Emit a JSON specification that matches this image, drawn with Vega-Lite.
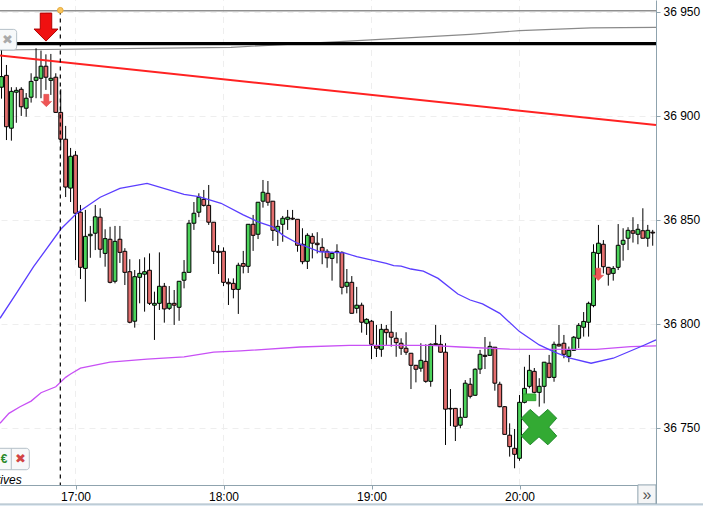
{
  "$schema": "https://vega.github.io/schema/vega-lite/v6.json",
  "width": 656,
  "height": 506,
  "padding": {"left": 0, "top": 0, "right": 47, "bottom": 0},
  "autosize": {"type": "none"},
  "background": "white",
  "config": {"view": {"stroke": null}},
  "datasets": {
    "candles": [
      {"t":"2024-01-15T16:30","o":36913.6,"c":36918.7,"h":36931.5,"l":36908.1},
      {"t":"2024-01-15T16:32","o":36919.3,"c":36894.6,"h":36924.3,"l":36888.2},
      {"t":"2024-01-15T16:34","o":36893.9,"c":36911.6,"h":36913.6,"l":36887.9},
      {"t":"2024-01-15T16:36","o":36911.2,"c":36912.1,"h":36913.6,"l":36896.5},
      {"t":"2024-01-15T16:38","o":36912.6,"c":36904.2,"h":36913.6,"l":36899.8},
      {"t":"2024-01-15T16:40","o":36903.5,"c":36908.3,"h":36910.8,"l":36899.4},
      {"t":"2024-01-15T16:42","o":36908.8,"c":36916.4,"h":36920.3,"l":36906.2},
      {"t":"2024-01-15T16:44","o":36916.9,"c":36918.4,"h":36932.3,"l":36908.3},
      {"t":"2024-01-15T16:46","o":36917.9,"c":36923.7,"h":36931.2,"l":36908.3},
      {"t":"2024-01-15T16:48","o":36923.7,"c":36918.4,"h":36929.4,"l":36912.3},
      {"t":"2024-01-15T16:50","o":36916.9,"c":36917.9,"h":36929.6,"l":36909.9},
      {"t":"2024-01-15T16:52","o":36918.4,"c":36901.5,"h":36920.3,"l":36901.2},
      {"t":"2024-01-15T16:54","o":36901.5,"c":36888.6,"h":36912.6,"l":36883.4},
      {"t":"2024-01-15T16:56","o":36888.6,"c":36865.6,"h":36895.0,"l":36860.8},
      {"t":"2024-01-15T16:58","o":36865.1,"c":36880.4,"h":36884.4,"l":36858.4},
      {"t":"2024-01-15T17:00","o":36880.9,"c":36853.0,"h":36882.9,"l":36830.5},
      {"t":"2024-01-15T17:02","o":36853.5,"c":36827.0,"h":36857.0,"l":36821.4},
      {"t":"2024-01-15T17:04","o":36826.5,"c":36841.9,"h":36854.6,"l":36810.5},
      {"t":"2024-01-15T17:06","o":36842.2,"c":36842.9,"h":36846.9,"l":36831.6},
      {"t":"2024-01-15T17:08","o":36843.4,"c":36851.3,"h":36857.0,"l":36835.3},
      {"t":"2024-01-15T17:10","o":36851.1,"c":36835.7,"h":36855.4,"l":36831.6},
      {"t":"2024-01-15T17:12","o":36833.7,"c":36840.8,"h":36845.3,"l":36827.3},
      {"t":"2024-01-15T17:14","o":36840.5,"c":36819.8,"h":36846.5,"l":36819.3},
      {"t":"2024-01-15T17:16","o":36820.3,"c":36839.5,"h":36846.9,"l":36819.3},
      {"t":"2024-01-15T17:18","o":36840.5,"c":36834.2,"h":36846.9,"l":36829.1},
      {"t":"2024-01-15T17:20","o":36834.7,"c":36824.6,"h":36836.2,"l":36818.5},
      {"t":"2024-01-15T17:22","o":36824.9,"c":36800.6,"h":36830.9,"l":36800.1},
      {"t":"2024-01-15T17:24","o":36801.1,"c":36822.5,"h":36825.7,"l":36798.0},
      {"t":"2024-01-15T17:26","o":36822.2,"c":36824.1,"h":36830.9,"l":36809.7},
      {"t":"2024-01-15T17:28","o":36823.7,"c":36824.9,"h":36831.8,"l":36805.7},
      {"t":"2024-01-15T17:30","o":36825.6,"c":36809.7,"h":36833.7,"l":36808.9},
      {"t":"2024-01-15T17:32","o":36808.8,"c":36809.7,"h":36815.3,"l":36792.1},
      {"t":"2024-01-15T17:34","o":36809.7,"c":36817.9,"h":36834.2,"l":36806.5},
      {"t":"2024-01-15T17:36","o":36817.9,"c":36807.0,"h":36819.5,"l":36800.4},
      {"t":"2024-01-15T17:38","o":36807.3,"c":36809.7,"h":36818.0,"l":36806.5},
      {"t":"2024-01-15T17:40","o":36809.7,"c":36808.8,"h":36816.1,"l":36799.3},
      {"t":"2024-01-15T17:42","o":36807.8,"c":36820.3,"h":36820.4,"l":36801.3},
      {"t":"2024-01-15T17:44","o":36820.8,"c":36824.6,"h":36830.5,"l":36816.9},
      {"t":"2024-01-15T17:46","o":36824.6,"c":36848.2,"h":36849.8,"l":36824.6},
      {"t":"2024-01-15T17:48","o":36848.2,"c":36853.0,"h":36858.4,"l":36845.0},
      {"t":"2024-01-15T17:50","o":36853.5,"c":36860.7,"h":36862.6,"l":36851.1},
      {"t":"2024-01-15T17:52","o":36859.7,"c":36856.8,"h":36864.2,"l":36856.2},
      {"t":"2024-01-15T17:54","o":36856.8,"c":36848.7,"h":36866.6,"l":36847.4},
      {"t":"2024-01-15T17:56","o":36848.7,"c":36834.7,"h":36848.8,"l":36828.6},
      {"t":"2024-01-15T17:58","o":36834.7,"c":36834.2,"h":36837.7,"l":36823.8},
      {"t":"2024-01-15T18:00","o":36834.7,"c":36819.8,"h":36836.6,"l":36818.0},
      {"t":"2024-01-15T18:02","o":36819.8,"c":36819.1,"h":36821.7,"l":36808.9},
      {"t":"2024-01-15T18:04","o":36819.3,"c":36816.4,"h":36821.7,"l":36812.1},
      {"t":"2024-01-15T18:06","o":36816.4,"c":36828.0,"h":36829.2,"l":36804.6},
      {"t":"2024-01-15T18:08","o":36828.8,"c":36827.5,"h":36834.9,"l":36824.1},
      {"t":"2024-01-15T18:10","o":36827.5,"c":36847.7,"h":36847.8,"l":36824.3},
      {"t":"2024-01-15T18:12","o":36847.7,"c":36842.4,"h":36852.2,"l":36834.9},
      {"t":"2024-01-15T18:14","o":36842.9,"c":36858.3,"h":36858.4,"l":36840.6},
      {"t":"2024-01-15T18:16","o":36858.8,"c":36863.1,"h":36869.0,"l":36855.7},
      {"t":"2024-01-15T18:18","o":36862.6,"c":36858.3,"h":36868.5,"l":36856.6},
      {"t":"2024-01-15T18:20","o":36858.8,"c":36844.8,"h":36858.9,"l":36839.7},
      {"t":"2024-01-15T18:22","o":36844.3,"c":36846.7,"h":36849.8,"l":36837.3},
      {"t":"2024-01-15T18:24","o":36847.7,"c":36850.6,"h":36851.7,"l":36839.3},
      {"t":"2024-01-15T18:26","o":36850.1,"c":36851.1,"h":36854.6,"l":36845.0},
      {"t":"2024-01-15T18:28","o":36850.6,"c":36850.2,"h":36854.6,"l":36849.8},
      {"t":"2024-01-15T18:30","o":36850.1,"c":36837.6,"h":36850.2,"l":36834.5},
      {"t":"2024-01-15T18:32","o":36838.1,"c":36829.7,"h":36845.8,"l":36828.5},
      {"t":"2024-01-15T18:34","o":36829.9,"c":36842.4,"h":36843.4,"l":36826.2},
      {"t":"2024-01-15T18:36","o":36841.9,"c":36838.6,"h":36843.4,"l":36831.3},
      {"t":"2024-01-15T18:38","o":36838.6,"c":36837.9,"h":36843.9,"l":36833.7},
      {"t":"2024-01-15T18:40","o":36836.6,"c":36834.7,"h":36841.0,"l":36828.5},
      {"t":"2024-01-15T18:42","o":36834.7,"c":36831.6,"h":36835.7,"l":36826.8},
      {"t":"2024-01-15T18:44","o":36831.3,"c":36833.7,"h":36834.5,"l":36820.6},
      {"t":"2024-01-15T18:46","o":36834.7,"c":36834.2,"h":36838.1,"l":36828.9},
      {"t":"2024-01-15T18:48","o":36834.2,"c":36817.4,"h":36834.7,"l":36814.0},
      {"t":"2024-01-15T18:50","o":36817.9,"c":36819.8,"h":36826.2,"l":36814.5},
      {"t":"2024-01-15T18:52","o":36819.8,"c":36804.9,"h":36822.8,"l":36804.9},
      {"t":"2024-01-15T18:54","o":36807.3,"c":36808.8,"h":36817.6,"l":36804.9},
      {"t":"2024-01-15T18:56","o":36808.8,"c":36800.6,"h":36810.0,"l":36795.6},
      {"t":"2024-01-15T18:58","o":36800.1,"c":36802.0,"h":36802.5,"l":36794.5},
      {"t":"2024-01-15T19:00","o":36801.1,"c":36790.0,"h":36801.7,"l":36782.9},
      {"t":"2024-01-15T19:02","o":36789.2,"c":36788.1,"h":36799.3,"l":36783.9},
      {"t":"2024-01-15T19:04","o":36787.6,"c":36797.2,"h":36799.8,"l":36784.0},
      {"t":"2024-01-15T19:06","o":36797.2,"c":36795.6,"h":36799.3,"l":36789.7},
      {"t":"2024-01-15T19:08","o":36795.8,"c":36793.4,"h":36806.0,"l":36788.9},
      {"t":"2024-01-15T19:10","o":36792.9,"c":36790.8,"h":36795.8,"l":36784.0},
      {"t":"2024-01-15T19:12","o":36790.5,"c":36788.1,"h":36792.9,"l":36784.9},
      {"t":"2024-01-15T19:14","o":36788.1,"c":36786.2,"h":36795.8,"l":36784.9},
      {"t":"2024-01-15T19:16","o":36785.7,"c":36779.9,"h":36785.8,"l":36768.5},
      {"t":"2024-01-15T19:18","o":36779.9,"c":36778.0,"h":36780.1,"l":36771.7},
      {"t":"2024-01-15T19:20","o":36778.5,"c":36782.3,"h":36790.5,"l":36776.8},
      {"t":"2024-01-15T19:22","o":36781.8,"c":36772.2,"h":36790.0,"l":36771.5},
      {"t":"2024-01-15T19:24","o":36772.2,"c":36790.0,"h":36790.5,"l":36769.6},
      {"t":"2024-01-15T19:26","o":36790.3,"c":36789.8,"h":36799.3,"l":36789.7},
      {"t":"2024-01-15T19:28","o":36790.0,"c":36786.2,"h":36794.5,"l":36786.0},
      {"t":"2024-01-15T19:30","o":36786.2,"c":36758.8,"h":36790.5,"l":36741.6},
      {"t":"2024-01-15T19:32","o":36759.2,"c":36758.9,"h":36768.5,"l":36750.7},
      {"t":"2024-01-15T19:34","o":36759.2,"c":36750.6,"h":36759.4,"l":36743.5},
      {"t":"2024-01-15T19:36","o":36751.1,"c":36754.9,"h":36759.4,"l":36749.6},
      {"t":"2024-01-15T19:38","o":36754.9,"c":36771.3,"h":36772.8,"l":36754.9},
      {"t":"2024-01-15T19:40","o":36770.8,"c":36765.0,"h":36773.8,"l":36764.0},
      {"t":"2024-01-15T19:42","o":36765.5,"c":36778.0,"h":36778.5,"l":36765.2},
      {"t":"2024-01-15T19:44","o":36778.1,"c":36785.2,"h":36787.3,"l":36775.7},
      {"t":"2024-01-15T19:46","o":36784.7,"c":36784.2,"h":36793.5,"l":36778.1},
      {"t":"2024-01-15T19:48","o":36784.7,"c":36789.0,"h":36791.3,"l":36784.4},
      {"t":"2024-01-15T19:50","o":36788.6,"c":36771.3,"h":36788.7,"l":36767.7},
      {"t":"2024-01-15T19:52","o":36770.8,"c":36760.0,"h":36772.0,"l":36759.7},
      {"t":"2024-01-15T19:54","o":36760.0,"c":36746.7,"h":36760.3,"l":36746.7},
      {"t":"2024-01-15T19:56","o":36746.3,"c":36740.8,"h":36752.0,"l":36736.0},
      {"t":"2024-01-15T19:58","o":36740.0,"c":36737.1,"h":36749.3,"l":36730.4},
      {"t":"2024-01-15T20:00","o":36735.2,"c":36762.1,"h":36765.6,"l":36734.0},
      {"t":"2024-01-15T20:02","o":36762.1,"c":36768.8,"h":36779.2,"l":36761.6},
      {"t":"2024-01-15T20:04","o":36769.8,"c":36777.5,"h":36784.9,"l":36768.8},
      {"t":"2024-01-15T20:06","o":36777.0,"c":36766.9,"h":36778.6,"l":36766.4},
      {"t":"2024-01-15T20:08","o":36766.9,"c":36769.8,"h":36773.7,"l":36760.0},
      {"t":"2024-01-15T20:10","o":36769.8,"c":36781.4,"h":36781.5,"l":36761.6},
      {"t":"2024-01-15T20:12","o":36780.9,"c":36774.1,"h":36784.9,"l":36773.7},
      {"t":"2024-01-15T20:14","o":36774.1,"c":36790.0,"h":36791.3,"l":36772.0},
      {"t":"2024-01-15T20:16","o":36790.0,"c":36789.2,"h":36799.3,"l":36788.9},
      {"t":"2024-01-15T20:18","o":36790.5,"c":36785.2,"h":36794.5,"l":36783.3},
      {"t":"2024-01-15T20:20","o":36784.2,"c":36787.1,"h":36788.9,"l":36781.4},
      {"t":"2024-01-15T20:22","o":36787.1,"c":36793.4,"h":36794.0,"l":36786.9},
      {"t":"2024-01-15T20:24","o":36792.9,"c":36799.1,"h":36800.2,"l":36788.2},
      {"t":"2024-01-15T20:26","o":36798.2,"c":36801.0,"h":36805.5,"l":36793.7},
      {"t":"2024-01-15T20:28","o":36800.6,"c":36809.7,"h":36810.5,"l":36793.7},
      {"t":"2024-01-15T20:30","o":36808.6,"c":36834.2,"h":36838.1,"l":36807.8},
      {"t":"2024-01-15T20:32","o":36833.7,"c":36838.6,"h":36847.4,"l":36826.5},
      {"t":"2024-01-15T20:34","o":36838.1,"c":36827.3,"h":36840.1,"l":36824.1},
      {"t":"2024-01-15T20:36","o":36827.0,"c":36823.7,"h":36827.2,"l":36818.2},
      {"t":"2024-01-15T20:38","o":36824.1,"c":36826.5,"h":36827.6,"l":36820.6},
      {"t":"2024-01-15T20:40","o":36827.0,"c":36837.6,"h":36847.8,"l":36825.7},
      {"t":"2024-01-15T20:42","o":36838.1,"c":36840.0,"h":36845.8,"l":36830.2},
      {"t":"2024-01-15T20:44","o":36841.0,"c":36844.8,"h":36846.3,"l":36835.3},
      {"t":"2024-01-15T20:46","o":36844.6,"c":36843.4,"h":36851.1,"l":36838.9},
      {"t":"2024-01-15T20:48","o":36842.9,"c":36845.3,"h":36847.8,"l":36838.1},
      {"t":"2024-01-15T20:50","o":36844.6,"c":36841.0,"h":36855.4,"l":36841.0},
      {"t":"2024-01-15T20:52","o":36841.0,"c":36844.8,"h":36847.4,"l":36836.9},
      {"t":"2024-01-15T20:54","o":36843.9,"c":36843.5,"h":36845.0,"l":36837.4}
    ],
    "ma_blue": [
      {"t":"2024-01-15T16:29:23","p":36802.5},{"t":"2024-01-15T16:36","p":36814.5},{"t":"2024-01-15T16:43","p":36827.3},
      {"t":"2024-01-15T16:54","p":36845.3},{"t":"2024-01-15T17:00:30","p":36853.0},{"t":"2024-01-15T17:10","p":36860.7},
      {"t":"2024-01-15T17:18","p":36865.0},{"t":"2024-01-15T17:29","p":36867.4},{"t":"2024-01-15T17:44","p":36862.1},
      {"t":"2024-01-15T17:50","p":36861.0},{"t":"2024-01-15T17:59","p":36857.8},{"t":"2024-01-15T18:08","p":36852.2},
      {"t":"2024-01-15T18:14","p":36848.9},{"t":"2024-01-15T18:20","p":36846.5},{"t":"2024-01-15T18:24","p":36842.5},
      {"t":"2024-01-15T18:30","p":36838.6},{"t":"2024-01-15T18:39","p":36834.5},{"t":"2024-01-15T18:49","p":36834.0},
      {"t":"2024-01-15T18:54","p":36832.1},{"t":"2024-01-15T19:06","p":36828.9},{"t":"2024-01-15T19:09","p":36827.8},
      {"t":"2024-01-15T19:12","p":36827.6},{"t":"2024-01-15T19:16","p":36826.2},{"t":"2024-01-15T19:21","p":36825.2},
      {"t":"2024-01-15T19:27","p":36821.7},{"t":"2024-01-15T19:35","p":36814.2},{"t":"2024-01-15T19:40","p":36811.3},
      {"t":"2024-01-15T19:45","p":36809.4},{"t":"2024-01-15T19:52","p":36804.9},{"t":"2024-01-15T20:00","p":36796.1},
      {"t":"2024-01-15T20:08","p":36789.7},{"t":"2024-01-15T20:14","p":36786.4},{"t":"2024-01-15T20:20:30","p":36783.3},
      {"t":"2024-01-15T20:29","p":36780.9},{"t":"2024-01-15T20:38","p":36783.3},{"t":"2024-01-15T20:50","p":36789.3},
      {"t":"2024-01-15T20:55:20","p":36792.1}
    ],
    "ma_magenta": [
      {"t":"2024-01-15T16:29:23","p":36752.0},{"t":"2024-01-15T16:33","p":36756.8},{"t":"2024-01-15T16:37:30","p":36760.0},
      {"t":"2024-01-15T16:42","p":36762.7},{"t":"2024-01-15T16:46","p":36766.7},{"t":"2024-01-15T16:52","p":36769.6},
      {"t":"2024-01-15T16:56","p":36774.1},{"t":"2024-01-15T16:58","p":36775.7},{"t":"2024-01-15T17:02","p":36778.5},
      {"t":"2024-01-15T17:14","p":36781.4},{"t":"2024-01-15T17:29","p":36782.9},{"t":"2024-01-15T17:44","p":36784.0},
      {"t":"2024-01-15T17:56","p":36786.2},{"t":"2024-01-15T18:07","p":36786.8},{"t":"2024-01-15T18:31","p":36788.7},
      {"t":"2024-01-15T18:51","p":36789.5},{"t":"2024-01-15T19:24","p":36789.5},{"t":"2024-01-15T19:36","p":36788.7},
      {"t":"2024-01-15T19:56","p":36787.7},{"t":"2024-01-15T20:31","p":36787.6},{"t":"2024-01-15T20:45","p":36788.9},
      {"t":"2024-01-15T20:55:20","p":36789.2}
    ],
    "ma_grey": [
      {"t":"2024-01-15T16:29:23","p":36931.5},{"t":"2024-01-15T18:03","p":36932.8},{"t":"2024-01-15T18:47","p":36935.5},
      {"t":"2024-01-15T19:40","p":36939.0},{"t":"2024-01-15T20:00","p":36940.8},{"t":"2024-01-15T20:29","p":36942.1},
      {"t":"2024-01-15T20:55:20","p":36942.4}
    ],
    "top_line": [{"t":"2024-01-15T16:29:23","p":36950.4},{"t":"2024-01-15T20:55:20","p":36950.4}],
    "black_line": [{"t":"2024-01-15T16:36","p":36934.6},{"t":"2024-01-15T20:55:20","p":36934.6}],
    "red_line": [{"t":"2024-01-15T16:29:23","p":36928.8},{"t":"2024-01-15T20:55:20","p":36895.4}],
    "hours": [
      {"t":"2024-01-15T17:00","p":36722.4,"p2":36955.5},{"t":"2024-01-15T18:00","p":36722.4,"p2":36955.5},
      {"t":"2024-01-15T19:00","p":36722.4,"p2":36955.5},{"t":"2024-01-15T20:00","p":36722.4,"p2":36955.5}
    ]
  },
  "encoding": {
    "x": {
      "field": "t",
      "type": "temporal",
      "scale": {
        "domain": [
          {"year": 2024, "month": 1, "date": 15, "hours": 16, "minutes": 29, "seconds": 23},
          {"year": 2024, "month": 1, "date": 15, "hours": 20, "minutes": 55, "seconds": 20}
        ],
        "nice": false,
        "padding": 0
      },
      "axis": {
        "orient": "bottom",
        "offset": -21,
        "title": null,
        "format": "%H:%M",
        "values": [
          {"year": 2024, "month": 1, "date": 15, "hours": 17},
          {"year": 2024, "month": 1, "date": 15, "hours": 18},
          {"year": 2024, "month": 1, "date": 15, "hours": 19},
          {"year": 2024, "month": 1, "date": 15, "hours": 20}
        ],
        "grid": false,
        "domainColor": "#8fa3ae",
        "tickColor": "#8fa3ae",
        "tickSize": 4,
        "labelPadding": 2,
        "labelFont": "Liberation Sans",
        "labelFontSize": 12,
        "labelColor": "#000000",
        "labelFlush": false
      }
    },
    "y": {
      "field": "p",
      "type": "quantitative",
      "scale": {"domain": [36712.26, 36955.53], "nice": false, "zero": false},
      "axis": {
        "orient": "right",
        "title": null,
        "values": [36750, 36800, 36850, 36900, 36950],
        "labelExpr": "replace(format(datum.value, ',d'), ',', ' ')",
        "grid": true,
        "gridColor": "#eeeeee",
        "gridDash": [6, 5],
        "domainColor": "#8fa3ae",
        "tickColor": "#8fa3ae",
        "tickSize": 4,
        "labelPadding": 3,
        "labelFont": "Liberation Sans",
        "labelFontSize": 12,
        "labelColor": "#000000"
      }
    }
  },
  "layer": [
    {
      "data": {"name": "hours"},
      "mark": {"type": "rule", "color": "#eeeeee", "strokeDash": [6, 5], "strokeWidth": 1},
      "encoding": {"y2": {"field": "p2"}}
    },
    {
      "data": {"name": "top_line"},
      "mark": {"type": "line", "color": "#8f8f8f", "strokeWidth": 1.5},
      "encoding": {}
    },
    {
      "data": {"name": "ma_grey"},
      "mark": {"type": "line", "color": "#8a8a8a", "strokeWidth": 1.2},
      "encoding": {}
    },
    {
      "data": {"name": "candles"},
      "mark": {"type": "rule", "color": "#000000", "strokeWidth": 1},
      "encoding": {
        "y": {"field": "h", "type": "quantitative", "scale": {"domain": [36712.26, 36955.53], "nice": false, "zero": false}},
        "y2": {"field": "l"}
      }
    },
    {
      "data": {"name": "candles"},
      "mark": {"type": "bar", "size": 3.8, "stroke": "#000000", "strokeWidth": 1},
      "encoding": {
        "y": {"field": "o", "type": "quantitative", "scale": {"domain": [36712.26, 36955.53], "nice": false, "zero": false}},
        "y2": {"field": "c"},
        "color": {"condition": {"test": "datum.c >= datum.o", "value": "#4bd35a"}, "value": "#e46f6f"}
      }
    },
    {
      "data": {"name": "ma_magenta"},
      "mark": {"type": "line", "color": "#c850f5", "strokeWidth": 1.3},
      "encoding": {}
    },
    {
      "data": {"name": "ma_blue"},
      "mark": {"type": "line", "color": "#5a3dff", "strokeWidth": 1.3},
      "encoding": {}
    },
    {
      "data": {"name": "black_line"},
      "mark": {"type": "line", "color": "#000000", "strokeWidth": 3.3},
      "encoding": {}
    },
    {
      "data": {"name": "red_line"},
      "mark": {"type": "line", "color": "#ff2222", "strokeWidth": 2},
      "encoding": {}
    },
    {
      "data": {"values": [{"t": "2024-01-15T16:53:50", "p": 36950.5, "p2": 36722.4}]},
      "mark": {"type": "rule", "color": "#000000", "strokeWidth": 1.2, "strokeDash": [4, 4]},
      "encoding": {"y2": {"field": "p2"}}
    },
    {
      "data": {"values": [{"t": "2024-01-15T16:53:50", "p": 36950.6}]},
      "mark": {"type": "point", "shape": "circle", "filled": true, "size": 32, "fill": "#f9c55c", "stroke": "#e6ab3e", "strokeWidth": 1, "opacity": 1},
      "encoding": {}
    },
    {
      "data": {"values": [{"t": "2024-01-15T16:48:02", "p": 36942.5}]},
      "mark": {
        "type": "point",
        "shape": "M-0.41,-1 L0.41,-1 L0.41,0.14 L0.857,0.14 L0,1 L-0.857,0.14 L-0.41,0.14 Z",
        "filled": true, "size": 784, "fill": "#f01010", "stroke": "#b00000", "strokeWidth": 1, "opacity": 1
      },
      "encoding": {}
    },
    {
      "data": {"values": [{"t": "2024-01-15T16:48:10", "p": 36907.2}, {"t": "2024-01-15T20:31:56", "p": 36823.6}]},
      "mark": {
        "type": "point",
        "shape": "M-0.41,-1 L0.41,-1 L0.41,0.14 L0.857,0.14 L0,1 L-0.857,0.14 L-0.41,0.14 Z",
        "filled": true, "size": 154, "fill": "#ee5555", "stroke": "#dd4444", "strokeWidth": 0.5, "opacity": 1
      },
      "encoding": {}
    },
    {
      "data": {"values": [{"t": "2024-01-15T20:01:30", "t2": "2024-01-15T20:06:36", "p": 36766.1, "p2": 36762.9}]},
      "mark": {"type": "rect", "fill": "#3dba3d", "stroke": "#2ea52e", "strokeWidth": 1},
      "encoding": {"x2": {"field": "t2"}, "y2": {"field": "p2"}}
    },
    {
      "data": {"values": [{"t": "2024-01-15T20:07:54", "p": 36750.2}]},
      "mark": {
        "type": "point",
        "shape": "M-1,-0.5 L-0.5,-1 L0,-0.55 L0.5,-1 L1,-0.5 L0.55,0 L1,0.5 L0.5,1 L0,0.55 L-0.5,1 L-1,0.5 L-0.55,0 Z",
        "filled": true, "size": 1253, "fill": "#33aa33", "stroke": "#1f8a2a", "strokeWidth": 1, "opacity": 1
      },
      "encoding": {}
    },
    {
      "data": {"values": [
        {"t": "2024-01-15T16:27", "t2": "2024-01-15T16:36:08", "p": 36941.4, "p2": 36931.5},
        {"t": "2024-01-15T16:27", "t2": "2024-01-15T16:41:16", "p": 36740.0, "p2": 36729.7}
      ]},
      "mark": {"type": "rect", "fill": "#f7f9fa", "stroke": "#b4c0c8", "strokeWidth": 1, "cornerRadius": 3},
      "encoding": {"x2": {"field": "t2"}, "y2": {"field": "p2"}}
    },
    {
      "data": {"values": [{"t": "2024-01-15T16:33:58", "p": 36740.0, "p2": 36729.7}]},
      "mark": {"type": "rule", "color": "#b4c0c8", "strokeWidth": 1},
      "encoding": {"y2": {"field": "p2"}}
    },
    {
      "data": {"values": [{"t": "2024-01-15T16:32:26", "p": 36936.5, "s": "✖"}]},
      "mark": {"type": "text", "font": "DejaVu Sans", "fontSize": 13, "color": "#aaaaaa", "align": "center", "baseline": "middle"},
      "encoding": {"text": {"field": "s"}}
    },
    {
      "data": {"values": [{"t": "2024-01-15T16:31:00", "p": 36734.9, "s": "€"}]},
      "mark": {"type": "text", "font": "Liberation Sans", "fontSize": 12, "fontWeight": "bold", "color": "#2a8a2a", "align": "center", "baseline": "middle"},
      "encoding": {"text": {"field": "s"}}
    },
    {
      "data": {"values": [{"t": "2024-01-15T16:37:42", "p": 36734.9, "s": "✖"}]},
      "mark": {"type": "text", "font": "DejaVu Sans", "fontSize": 13, "color": "#d24545", "align": "center", "baseline": "middle"},
      "encoding": {"text": {"field": "s"}}
    },
    {
      "data": {"values": [{"t": "2024-01-15T16:38:11", "p": 36725.0, "s": "tives"}]},
      "mark": {"type": "text", "font": "Liberation Sans", "fontSize": 12, "fontStyle": "italic", "color": "#000000", "align": "right", "baseline": "middle"},
      "encoding": {"text": {"field": "s"}}
    },
    {
      "data": {"values": [{"t": "2024-01-15T20:47:59", "t2": "2024-01-15T20:55:20", "p": 36722.4, "p2": 36713.2}]},
      "mark": {"type": "rect", "fill": "#f4f5f6", "stroke": "#8fa3ae", "strokeWidth": 1},
      "encoding": {"x2": {"field": "t2"}, "y2": {"field": "p2"}}
    },
    {
      "data": {"values": [{"t": "2024-01-15T20:51:42", "p": 36717.7, "s": "»"}]},
      "mark": {"type": "text", "font": "Liberation Sans", "fontSize": 16, "color": "#555555", "align": "center", "baseline": "middle"},
      "encoding": {"text": {"field": "s"}}
    },
    {
      "data": {"values": [{"t": "2024-01-15T16:29:23", "t2": "2024-01-15T21:14:24", "p": 36713.2, "p2": 36712.26}]},
      "mark": {"type": "rect", "fill": "#dfe9f1"},
      "encoding": {"x2": {"field": "t2"}, "y2": {"field": "p2"}}
    },
    {
      "data": {"values": [{"t": "2024-01-15T16:29:23", "t2": "2024-01-15T21:14:24", "p": 36713.2}]},
      "mark": {"type": "rule", "color": "#9fb2bf", "strokeWidth": 1},
      "encoding": {"x2": {"field": "t2"}}
    }
  ]
}
